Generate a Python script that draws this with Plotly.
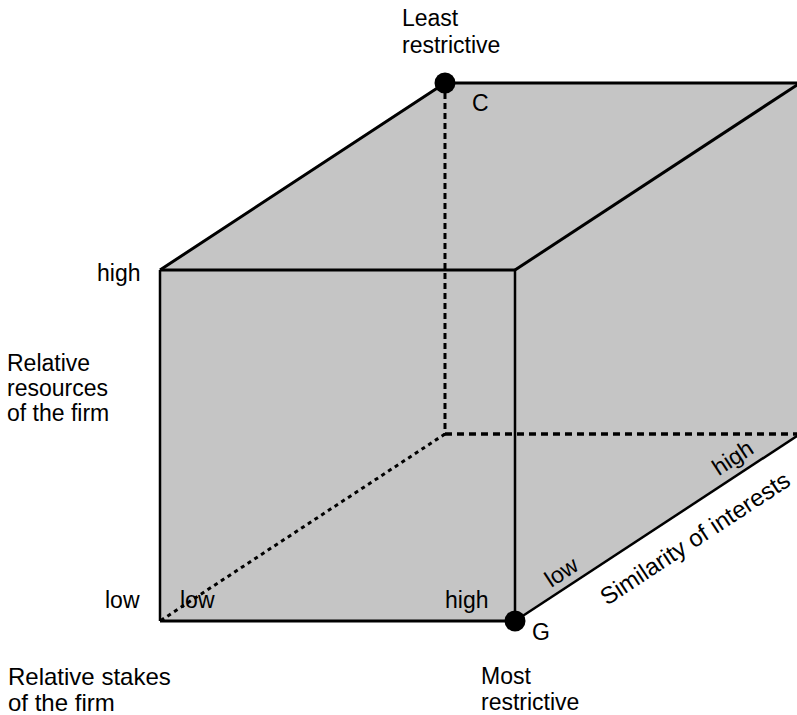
import plotly.graph_objects as go

# ---- data: cube dimensions (0 = low, 1 = high) ----
levels = ["low", "high"]
stakes_title = ["Relative stakes", "of the firm"]
resources_title = ["Relative", "resources", "of the firm"]
similarity_title = "Similarity of interests"
top_label = ["Least", "restrictive"]
bottom_label = ["Most", "restrictive"]
corner_names = ["C", "G"]
# corners (stakes, resources, similarity)
corner_C = (0, 1, 1)
corner_G = (1, 0, 0)

# oblique projection of the depth (similarity) axis
DX, DY = 0.8028, 0.5328


def proj(s, r, d):
    return s + DX * d, r + DY * d


def path(pts):
    xs, ys = [], []
    for p in pts:
        x, y = proj(*p)
        xs.append(x)
        ys.append(y)
    return xs, ys


# pixel <-> data helper for label placement (layout only)
X0, XS = 160, 355
Y0, YS = 621, 351


def px(p, q):
    return (p - X0) / XS, (Y0 - q) / YS


W, H = 797, 715
xr = [px(0, 0)[0], px(W, 0)[0]]
yr = [px(0, H)[1], px(0, 0)[1]]

fig = go.Figure()
FILL = "#c5c5c5"

faces = [
    [(0, 0, 0), (1, 0, 0), (1, 1, 0), (0, 1, 0)],
    [(0, 1, 0), (1, 1, 0), (1, 1, 1), (0, 1, 1)],
    [(1, 0, 0), (1, 0, 1), (1, 1, 1), (1, 1, 0)],
]
for f in faces:
    xs, ys = path(f + [f[0]])
    fig.add_trace(go.Scatter(x=xs, y=ys, mode="lines", fill="toself",
                             fillcolor=FILL, line=dict(width=0),
                             hoverinfo="skip", showlegend=False))

# hidden (dashed) edges
dashed = [
    ([corner_C, (0, 0, 1)], "6px,4px", 3),
    ([(0, 0, 1), (1, 0, 1)], "7px,5px", 3.5),
    ([(0, 0, 1), (0, 0, 0)], "4px,4px", 3),
]
for pts, dash, w in dashed:
    xs, ys = path(pts)
    fig.add_trace(go.Scatter(x=xs, y=ys, mode="lines",
                             line=dict(color="black", width=w, dash=dash),
                             hoverinfo="skip", showlegend=False))

# visible edges
solid = [
    ([(0, 0, 0), (0, 1, 0)], 2.5),
    ([(1, 0, 0), (1, 1, 0)], 2.5),
    ([(0, 0, 0), (1, 0, 0)], 3),
    ([(0, 1, 0), (1, 1, 0)], 3),
    ([(0, 1, 0), (0, 1, 1), (1, 1, 1)], 3),
    ([(1, 1, 0), (1, 1, 1)], 3),
    ([(1, 0, 0), (1, 0, 1)], 2.5),
]
for pts, w in solid:
    xs, ys = path(pts)
    fig.add_trace(go.Scatter(x=xs, y=ys, mode="lines",
                             line=dict(color="black", width=w),
                             hoverinfo="skip", showlegend=False))

# corner points
xs, ys = path([corner_C, corner_G])
fig.add_trace(go.Scatter(x=xs, y=ys, mode="markers",
                         marker=dict(color="black", size=21),
                         hoverinfo="skip", showlegend=False))

FAMILY = "Liberation Sans, Arial, sans-serif"
ann = []


def label(text, p, q, xanchor="left", angle=0, size=23):
    x, y = px(p, q)
    ann.append(dict(x=x, y=y, xref="x", yref="y", text=text, showarrow=False,
                    xanchor=xanchor, yanchor="middle", textangle=angle,
                    font=dict(family=FAMILY, size=size, color="black")))


label(top_label[0], 400, 18)
label(top_label[1], 400, 45)
label(corner_names[0], 470, 103)
label(corner_names[1], 530, 632)
label(levels[1], 142, 273, xanchor="right")
label(levels[0], 142, 600, xanchor="right")
for i, t in enumerate(resources_title):
    label(t, 5, 363 + 25 * i)
label(levels[0], 178, 600)
label(levels[1], 443, 600)
for i, t in enumerate(stakes_title):
    label(t, 6, 676 + 26 * i, size=24)
for i, t in enumerate(bottom_label):
    label(t, 479, 676 + 26 * i)
ANG = -33.3
label(levels[0], 561, 572, xanchor="center", angle=ANG)
label(similarity_title, 694, 538, xanchor="center", angle=ANG, size=24)
label(levels[1], 732, 458, xanchor="center", angle=ANG)

fig.update_layout(
    width=W, height=H, margin=dict(l=0, r=0, t=0, b=0),
    paper_bgcolor="white", plot_bgcolor="white",
    xaxis=dict(range=xr, visible=False, fixedrange=True),
    yaxis=dict(range=yr, visible=False, fixedrange=True),
    annotations=ann, showlegend=False,
)
fig.write_html(
    "out.html",
    config={"displayModeBar": False},
    post_script="document.body.style.margin='0';"
                "document.body.style.overflow='hidden';",
)
